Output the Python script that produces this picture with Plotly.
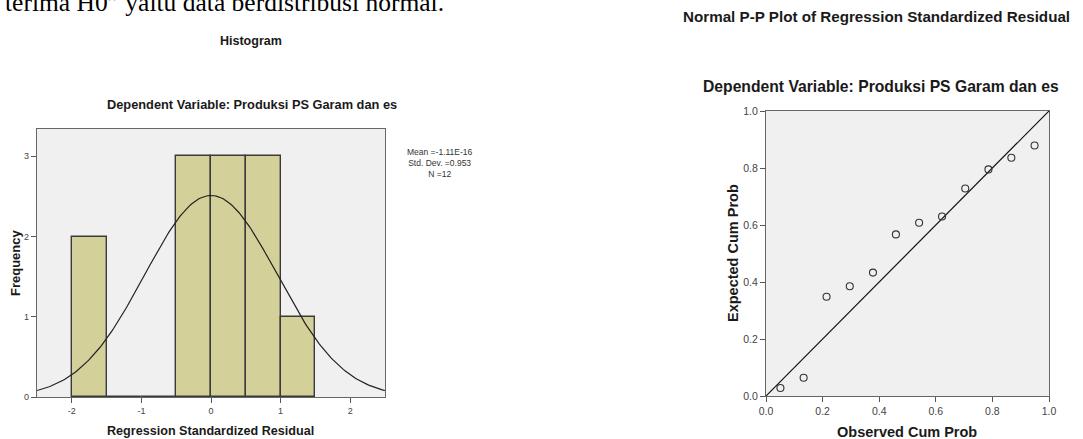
import numpy as np
import plotly.graph_objects as go

# ---- Data ----
bin_edges = [-2.0, -1.5, -1.0, -0.5, 0.0, 0.5, 1.0, 1.5]
bin_counts = [2, 0, 0, 3, 3, 3, 1]
resid_mean = -1.11e-16
resid_sd = 0.953
resid_n = 12

hist_xticks = [-2, -1, 0, 1, 2]
hist_xticktext = ["-2", "-1", "0", "1", "2"]
hist_yticks = [0, 1, 2, 3]

observed_cum = [0.051, 0.133, 0.214, 0.296, 0.378, 0.459, 0.541, 0.622, 0.704, 0.786, 0.867, 0.949]
expected_cum = [0.028, 0.064, 0.348, 0.385, 0.433, 0.567, 0.608, 0.630, 0.728, 0.795, 0.836, 0.879]
pp_ticks = [0.0, 0.2, 0.4, 0.6, 0.8, 1.0]
pp_ticktext = ["0.0", "0.2", "0.4", "0.6", "0.8", "1.0"]

W, H = 1083, 439
FONT = "Liberation Sans, Arial, sans-serif"

def px(x):
    return x / W

def py(y):
    return 1 - y / H

fig = go.Figure()

# Histogram bars
centers = [(bin_edges[i] + bin_edges[i + 1]) / 2 for i in range(len(bin_counts))]
widths = [bin_edges[i + 1] - bin_edges[i] for i in range(len(bin_counts))]
fig.add_trace(go.Bar(
    x=centers, y=bin_counts, width=widths,
    marker=dict(color="#d4d09a", line=dict(color="#3a3a3a", width=1.4)),
    xaxis="x", yaxis="y", showlegend=False, hoverinfo="skip"))

# Normal curve from the displayed stats
bw = bin_edges[1] - bin_edges[0]
xc = np.linspace(-2.5, 2.5, 201)
yc = resid_n * bw * np.exp(-0.5 * ((xc - resid_mean) / resid_sd) ** 2) / (resid_sd * np.sqrt(2 * np.pi))
fig.add_trace(go.Scatter(
    x=xc, y=yc, mode="lines", line=dict(color="#222222", width=1.2),
    xaxis="x", yaxis="y", showlegend=False, hoverinfo="skip"))

# P-P plot diagonal
fig.add_trace(go.Scatter(
    x=[0, 1], y=[0, 1], mode="lines", line=dict(color="#111111", width=1.2),
    xaxis="x2", yaxis="y2", showlegend=False, hoverinfo="skip"))
fig.add_trace(go.Scatter(
    x=observed_cum, y=expected_cum, mode="markers",
    marker=dict(symbol="circle-open", size=7, color="#333333", line=dict(width=1.1)),
    xaxis="x2", yaxis="y2", showlegend=False, hoverinfo="skip"))

axis_common = dict(showgrid=False, zeroline=False, showline=True, mirror=True,
                   linecolor="#666666", linewidth=1.3, ticks="outside",
                   tickcolor="#555555", ticklen=5, tickwidth=1)

fig.update_layout(
    autosize=True,
    margin=dict(l=0, r=0, t=0, b=0, autoexpand=False),
    paper_bgcolor="white",
    font=dict(family=FONT, color="#222222"),
    bargap=0,
    xaxis=dict(domain=[px(37), px(385)], range=[-2.5, 2.5], anchor="y",
               tickvals=hist_xticks, ticktext=hist_xticktext,
               tickfont=dict(size=9, color="#444444"), **axis_common),
    yaxis=dict(domain=[py(397), py(129)], range=[0, 3.34], anchor="x",
               tickvals=hist_yticks, tickfont=dict(size=9, color="#444444"), **axis_common),
    xaxis2=dict(domain=[px(766), px(1049)], range=[0, 1], anchor="y2",
                tickvals=pp_ticks, ticktext=pp_ticktext,
                tickfont=dict(size=10.5, color="#444444"), **axis_common),
    yaxis2=dict(domain=[py(396), py(111)], range=[0, 1], anchor="x2",
                tickvals=pp_ticks, ticktext=pp_ticktext,
                tickfont=dict(size=10.5, color="#444444"), **axis_common),
    plot_bgcolor="#f0f0f0",
)

ann = []
def add_text(x, y, text, size, bold=False, angle=0, xanchor="center", yanchor="middle",
             family=FONT, color="#1a1a1a", align="center"):
    t = f"<b>{text}</b>" if bold else text
    ann.append(dict(x=px(x), y=py(y), xref="paper", yref="paper", text=t, showarrow=False,
                    font=dict(size=size, family=family, color=color), textangle=angle,
                    xanchor=xanchor, yanchor=yanchor, align=align))

# Cut-off body text at top
add_text(3, 3, "terima H0\u201d yaitu data berdistribusi normal.", 25.5,
         xanchor="left", family="Liberation Serif, Times New Roman, serif", color="#000000")

# Histogram texts
add_text(251, 41, "Histogram", 12.5, bold=True)
add_text(252, 105, "Dependent Variable: Produksi PS Garam dan es", 12.8, bold=True)
add_text(440, 163, "Mean =-1.11E-16<br>Std. Dev. =0.953<br>N =12", 8.5, color="#333333")
add_text(15, 263, "Frequency", 13, bold=True, angle=-90)
add_text(210, 431, "Regression Standardized Residual", 12.6, bold=True)

# P-P plot texts
add_text(876, 17, "Normal P-P Plot of Regression Standardized Residual", 15.2, bold=True)
add_text(881, 86, "Dependent Variable: Produksi PS Garam dan es", 15.7, bold=True)
add_text(733, 253, "Expected Cum Prob", 14.5, bold=True, angle=-90)
add_text(907, 432, "Observed Cum Prob", 14.5, bold=True)

fig.update_layout(annotations=ann)

fig.write_html("out.html", config={"displayModeBar": False},
               default_width="100vw", default_height="100vh",
               post_script="document.documentElement.style.overflow='hidden';"
                           "document.body.style.margin='0';document.body.style.overflow='hidden';")
